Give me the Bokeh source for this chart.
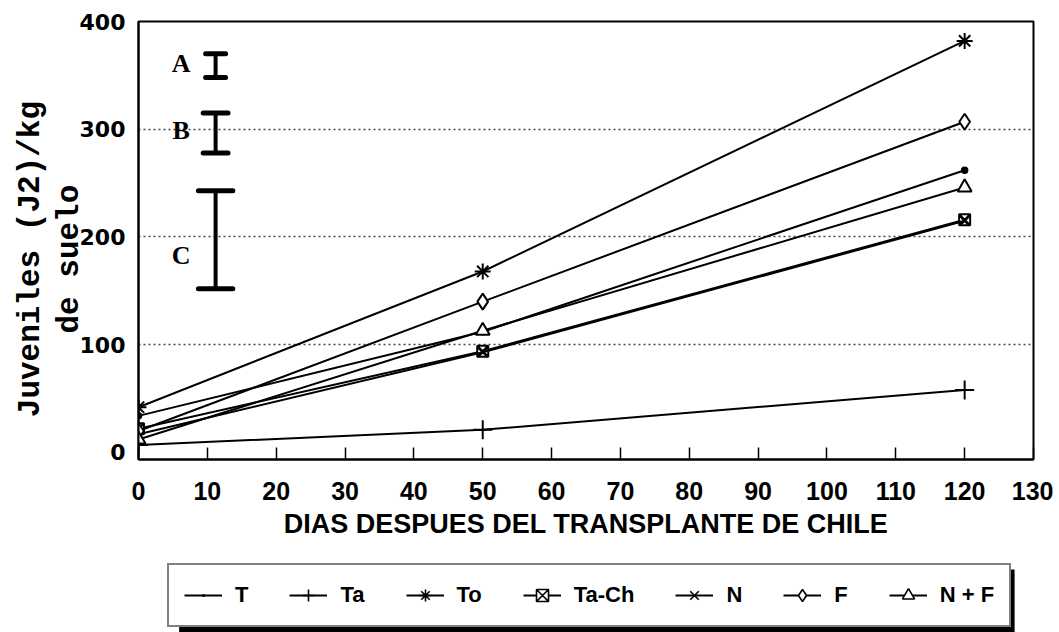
import math
from bokeh.plotting import figure
from bokeh.layouts import column
from bokeh.models import Legend, LegendItem, FixedTicker, Range1d, BoxAnnotation
from bokeh.core.properties import value
from bokeh.embed import file_html
from bokeh.resources import INLINE

# ---------------- data ----------------
days = [0, 50, 120]
series_names = ["T", "Ta", "To", "Ta-Ch", "N", "F", "N + F"]
T_vals = [34, 112, 262]
Ta_vals = [7, 21, 58]
To_vals = [42, 168, 382]
TaCh_vals = [22, 94, 216]
N_vals = [17, 93, 215]
F_vals = [20, 140, 307]
NF_vals = [12, 113, 246]

err_labels = ["A", "B", "C"]
err_low = [348, 278, 152]
err_high = [370, 315, 243]
err_label_y = [361, 299, 183]
err_day = 11.2

x_ticks = list(range(0, 131, 10))
y_ticks = [0, 100, 200, 300, 400]
grid_ticks = [100, 200, 300]

y_title_lines = ["Juveniles (J2)/kg", "de suelo"]
x_title = "DIAS DESPUES DEL TRANSPLANTE DE CHILE"

# ---------------- main figure ----------------
p = figure(frame_width=895, frame_height=438,
           min_border_left=138, min_border_right=20,
           min_border_top=21, min_border_bottom=90,
           x_range=Range1d(0, 130), y_range=Range1d(-6.5, 400),
           output_backend="svg", toolbar_location=None)
p.background_fill_color = "white"
p.border_fill_color = "white"
p.outline_line_color = "black"
p.outline_line_width = 2

p.xaxis.ticker = FixedTicker(ticks=x_ticks)
p.yaxis.ticker = FixedTicker(ticks=y_ticks)
for ax in (p.xaxis[0], p.yaxis[0]):
    ax.axis_line_width = 2
    ax.axis_line_color = "black"
    ax.minor_tick_line_color = None
    ax.minor_tick_in = 0
    ax.minor_tick_out = 0
    ax.major_label_text_color = "black"
    ax.major_label_text_font_style = "bold"

p.xaxis.major_tick_in = 12
p.xaxis.major_tick_out = 0
p.xaxis.major_tick_line_width = 1.5
p.xaxis.major_tick_line_color = "black"
p.xaxis.major_label_text_font = "Liberation Sans"
p.xaxis.major_label_text_font_size = "25px"
p.xaxis.major_label_standoff = 22
p.xaxis.axis_label = x_title
p.xaxis.axis_label_text_font = "Liberation Sans"
p.xaxis.axis_label_text_font_style = "bold"
p.xaxis.axis_label_text_font_size = "27px"
p.xaxis.axis_label_text_color = "black"
p.xaxis.axis_label_standoff = 6

p.yaxis.major_tick_line_color = None
p.yaxis.major_tick_in = 0
p.yaxis.major_tick_out = 0
p.yaxis.major_label_text_font = "DejaVu Sans"
p.yaxis.major_label_text_font_size = "22px"
p.yaxis.major_label_standoff = 13
# trailing no-break spaces shift the centred title slightly downwards, as in the original
p.yaxis.axis_label = "\n".join(t + "\u00a0\u00a0" for t in y_title_lines)
p.yaxis.axis_label_text_font = "Liberation Mono"
p.yaxis.axis_label_text_font_style = "bold"
p.yaxis.axis_label_text_font_size = "31px"
p.yaxis.axis_label_text_line_height = 1.1
p.yaxis.axis_label_text_color = "black"
p.yaxis.axis_label_standoff = -10

p.xgrid.grid_line_color = None
p.ygrid.ticker = FixedTicker(ticks=grid_ticks)
p.ygrid.grid_line_color = "#444444"
p.ygrid.grid_line_dash = "2 3"
p.ygrid.grid_line_width = 1.3

# ---------------- series ----------------
series_vals = [T_vals, Ta_vals, To_vals, TaCh_vals, N_vals, F_vals, NF_vals]
marker_style = {
    "T": dict(marker="dot", size=30, fill_color="black"),
    "Ta": dict(marker="cross", size=19, fill_color=None),
    "To": dict(marker="asterisk", size=16, fill_color=None),
    "Ta-Ch": dict(marker="square_x", size=11, fill_color="white"),
    "N": dict(marker="x", size=13, fill_color=None),
    "F": dict(marker="diamond", size=16, fill_color="white"),
    "N + F": dict(marker="triangle", size=14, fill_color="white"),
}

for name, vals in zip(series_names, series_vals):
    st = marker_style[name]
    p.line(days, vals, line_color="black", line_width=2)
    p.scatter(days, vals, marker=st["marker"], size=st["size"],
              line_color="black", line_width=2, fill_color=st["fill_color"])

# ---------------- error bars ----------------
cap_half = [1.45, 1.8, 2.5]
xs = [err_day] * len(err_low)
p.segment(x0=xs, y0=err_low, x1=xs, y1=err_high, line_color="black", line_width=4)
p.segment(x0=[x - c for x, c in zip(xs, cap_half)], y0=err_low,
          x1=[x + c for x, c in zip(xs, cap_half)], y1=err_low,
          line_color="black", line_width=5, line_cap="round")
p.segment(x0=[x - c for x, c in zip(xs, cap_half)], y0=err_high,
          x1=[x + c for x, c in zip(xs, cap_half)], y1=err_high,
          line_color="black", line_width=5, line_cap="round")
p.text(x=[err_day - 5.0] * 3, y=err_label_y, text=err_labels,
       text_font=value("Liberation Serif"), text_font_style="bold",
       text_font_size="26px", text_align="center", text_baseline="middle",
       text_color="black")

# ---------------- legend strip (separate figure below, frame aligned with p) ----------------
leg_h = 632 - (21 + 438 + 90)
OFF = -2000  # strip ranges in pixel units, shifted far away from the series data
q = figure(width=1045, height=leg_h,
           x_range=Range1d(OFF, OFF + 895), y_range=Range1d(OFF, OFF + leg_h),
           x_axis_type=None, y_axis_type=None,
           min_border_left=0, min_border_right=0, min_border_top=0, min_border_bottom=0,
           output_backend="svg", toolbar_location=None)
q.outline_line_color = None
q.grid.visible = False
q.background_fill_color = "white"
q.border_fill_color = "white"

items_main = []
for name, vals in zip(series_names, series_vals):
    st = marker_style[name]
    # same series data; the strip's ranges keep them out of view, only legend glyphs show
    lr = q.line(days, vals, line_color="black", line_width=2)
    lw = 5 if st["marker"] == "dot" else 1.6
    sr = q.scatter(days, vals, marker=st["marker"], size=st["size"],
                   line_color="black", line_width=lw, fill_color=st["fill_color"])
    items_main.append(LegendItem(label=name, renderers=[lr, sr]))

# drop shadow of the legend box (offset right / down)
leg_left, leg_bottom, leg_width, leg_height = 29, 5, 843, 65
shadow_dx, shadow_dy = 12, 7
q.add_layout(BoxAnnotation(left=OFF + leg_left + shadow_dx,
                           right=OFF + leg_left + leg_width + shadow_dx,
                           bottom=OFF + leg_bottom - shadow_dy,
                           top=OFF + leg_bottom + leg_height - shadow_dy,
                           fill_color="black", fill_alpha=1.0, line_color=None))

legend = Legend(items=items_main, location=(leg_left, leg_bottom), orientation="horizontal",
                glyph_width=38, glyph_height=30, label_standoff=13,
                spacing=41, padding=15, label_width=10, margin=0,
                label_text_font="Liberation Sans", label_text_font_style="bold",
                label_text_font_size="22px", label_text_color="black",
                border_line_color="black", border_line_width=2,
                background_fill_color="white", background_fill_alpha=1.0)
q.add_layout(legend, "center")

layout = column(p, q, spacing=0)
open("out.html", "w").write(file_html(layout, INLINE))
